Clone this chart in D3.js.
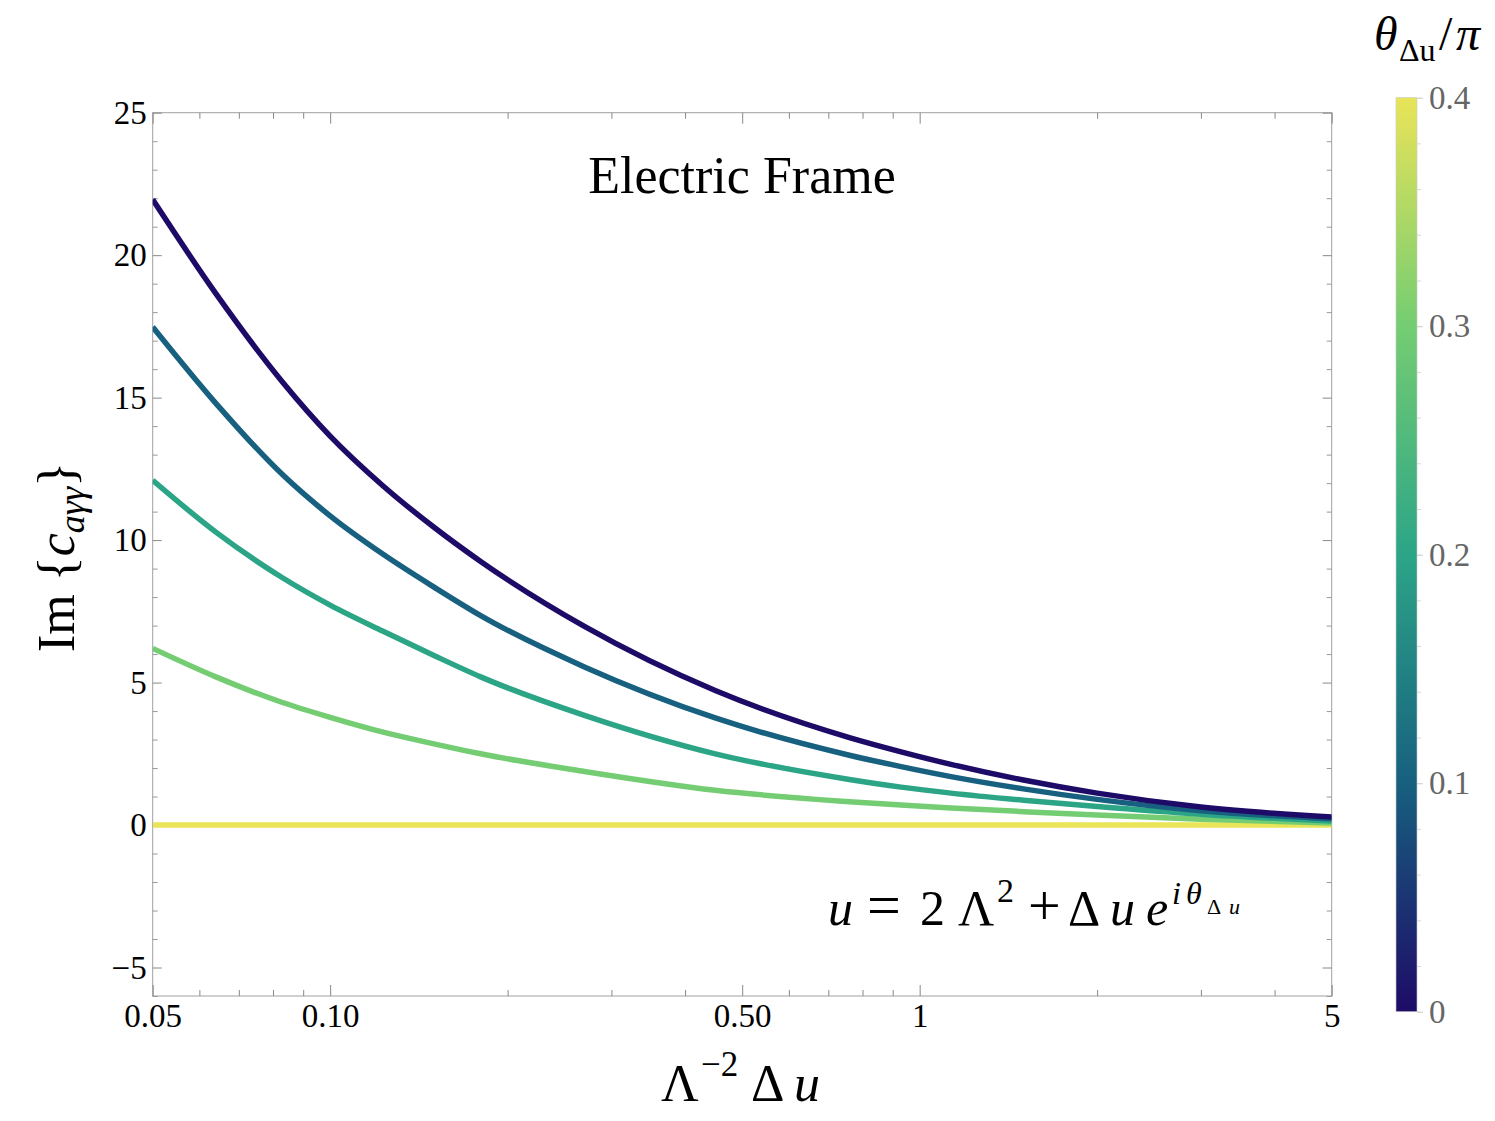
<!DOCTYPE html>
<html lang="en">
<head>
<meta charset="UTF-8">
<title>Electric Frame</title>
<script src="https://d3js.org/d3.v7.min.js"></script>
<style>
  body { margin: 0; background: #fff; }
  text { font-family: "Liberation Serif", "DejaVu Serif", serif; }
</style>
</head>
<body>
<div id="chart"></div>
<script>
// data
var xVals = [0.05, 0.064, 0.083, 0.1, 0.123, 0.15, 0.18, 0.27, 0.45, 0.76, 0.93, 1.13, 1.5, 2.0, 3.0, 5.0];
var thetas = [0, 0.1, 0.2, 0.3, 0.4];
var im00 = [21.95, 18.65, 15.55, 13.65, 11.9, 10.45, 9.25, 6.97, 4.72, 3.07, 2.57, 2.13, 1.58, 1.12, 0.63, 0.28];
var im01 = [17.48, 14.8, 12.3, 10.85, 9.5, 8.35, 7.35, 5.55, 3.76, 2.45, 2.05, 1.7, 1.27, 0.9, 0.5, 0.22];
var im02 = [12.1, 10.28, 8.68, 7.72, 6.8, 5.95, 5.2, 3.85, 2.5, 1.6, 1.33, 1.12, 0.87, 0.65, 0.38, 0.14];
var im03 = [6.2, 5.2, 4.3, 3.78, 3.26, 2.85, 2.5, 1.88, 1.22, 0.82, 0.7, 0.6, 0.47, 0.35, 0.2, 0.07];
var im04 = [0, 0, 0, 0, 0, 0, 0, 0, 0, 0, 0, 0, 0, 0, 0, 0];
var seriesVals = [im00, im01, im02, im03, im04];

var xMajor = [0.05, 0.1, 0.5, 1, 5];
var xMajorLabels = ["0.05", "0.10", "0.50", "1", "5"];
var xMinor = [0.06, 0.07, 0.08, 0.09, 0.2, 0.3, 0.4, 0.6, 0.7, 0.8, 0.9, 2, 3, 4];
var yMajor = [-5, 0, 5, 10, 15, 20, 25];
var cbTicks = [0, 0.1, 0.2, 0.3, 0.4];

var W = 1495, H = 1121;
var L = 152.7, R = 1331.7, T = 112.7, B = 996;

var svg = d3.select("#chart").append("svg")
    .attr("width", W).attr("height", H);

var x = d3.scaleLog().domain([0.05, 5]).range([L, R]);
var y = d3.scaleLinear().domain([-6, 25]).range([B, T]);

var color = d3.scaleLinear()
    .domain([0, 0.1, 0.2, 0.3, 0.4])
    .range(["#1e0b67", "#17607f", "#2ca587", "#74cd72", "#e9e458"]);

var yMinor = d3.range(-6, 26).filter(function (v) { return v % 5 !== 0; });

// frame
svg.append("rect")
    .attr("x", L).attr("y", T)
    .attr("width", R - L).attr("height", B - T)
    .attr("fill", "none").attr("stroke", "#a0a0a0").attr("stroke-width", 1);

function styleAxis(g, col) {
    g.select(".domain").remove();
    g.selectAll(".tick line").attr("stroke", col);
    g.selectAll(".tick text").attr("font-size", 33).attr("fill", "#000")
        .attr("font-family", "Liberation Serif, serif");
}

// bottom axis
svg.append("g").attr("transform", "translate(0," + B + ")")
    .call(d3.axisBottom(x).tickValues(xMajor).tickSize(-11).tickPadding(8)
        .tickFormat(function (d, i) { return xMajorLabels[i]; }))
    .call(styleAxis, "#888");
svg.append("g").attr("transform", "translate(0," + B + ")")
    .call(d3.axisBottom(x).tickValues(xMinor).tickSize(-6).tickFormat(""))
    .call(styleAxis, "#888");
// top axis (mirror)
svg.append("g").attr("transform", "translate(0," + T + ")")
    .call(d3.axisTop(x).tickValues(xMajor).tickSize(-11).tickFormat(""))
    .call(styleAxis, "#888");
svg.append("g").attr("transform", "translate(0," + T + ")")
    .call(d3.axisTop(x).tickValues(xMinor).tickSize(-6).tickFormat(""))
    .call(styleAxis, "#888");

// left axis
svg.append("g").attr("transform", "translate(" + L + ",0)")
    .call(d3.axisLeft(y).tickValues(yMajor).tickSize(-9).tickPadding(6)
        .tickFormat(function (d) { return d < 0 ? "\u2212" + Math.abs(d) : d; }))
    .call(styleAxis, "#888");
svg.append("g").attr("transform", "translate(" + L + ",0)")
    .call(d3.axisLeft(y).tickValues(yMinor).tickSize(-5).tickFormat(""))
    .call(styleAxis, "#999");
// right axis (mirror)
svg.append("g").attr("transform", "translate(" + R + ",0)")
    .call(d3.axisRight(y).tickValues(yMajor).tickSize(-9).tickFormat(""))
    .call(styleAxis, "#888");
svg.append("g").attr("transform", "translate(" + R + ",0)")
    .call(d3.axisRight(y).tickValues(yMinor).tickSize(-5).tickFormat(""))
    .call(styleAxis, "#999");

// curves
svg.append("clipPath").attr("id", "plotclip")
    .append("rect").attr("x", L).attr("y", T).attr("width", R - L).attr("height", B - T);

var line = d3.line()
    .x(function (d) { return x(d[0]); })
    .y(function (d) { return y(d[1]); })
    .curve(d3.curveMonotoneX);

var order = [4, 3, 2, 1, 0];
order.forEach(function (k) {
    var pts = xVals.map(function (xv, i) { return [xv, seriesVals[k][i]]; });
    svg.append("path")
        .datum(pts)
        .attr("clip-path", "url(#plotclip)")
        .attr("fill", "none")
        .attr("stroke", color(thetas[k]))
        .attr("stroke-width", 5.5)
        .attr("d", line);
});

// title inside plot
svg.append("text")
    .attr("x", 742).attr("y", 193)
    .attr("text-anchor", "middle")
    .attr("font-size", 52)
    .text("Electric Frame");

// formula  u = 2 Λ^2 + Δ u e^{i θ_{Δu}}
var f = svg.append("text").attr("font-size", 50);
f.append("tspan").attr("x", 828).attr("y", 925).attr("font-style", "italic").text("u");
f.append("tspan").attr("x", 867).attr("y", 925).attr("font-size", 60).text("=");
f.append("tspan").attr("x", 920).attr("y", 925).text("2");
f.append("tspan").attr("x", 958).attr("y", 925).text("\u039B");
f.append("tspan").attr("x", 997).attr("y", 902).attr("font-size", 34).text("2");
f.append("tspan").attr("x", 1028).attr("y", 925).attr("font-size", 58).text("+");
f.append("tspan").attr("x", 1068).attr("y", 925).text("\u0394");
f.append("tspan").attr("x", 1110).attr("y", 925).attr("font-style", "italic").text("u");
f.append("tspan").attr("x", 1146).attr("y", 925).attr("font-style", "italic").text("e");
f.append("tspan").attr("x", 1172).attr("y", 904).attr("font-size", 32).attr("font-style", "italic").text("i");
f.append("tspan").attr("x", 1186).attr("y", 904).attr("font-size", 32).attr("font-style", "italic").text("\u03B8");
f.append("tspan").attr("x", 1207).attr("y", 914).attr("font-size", 22).text("\u0394");
f.append("tspan").attr("x", 1229).attr("y", 914).attr("font-size", 22).attr("font-style", "italic").text("u");

// x label  Λ^{-2} Δ u
var xl = svg.append("text").attr("font-size", 52);
xl.append("tspan").attr("x", 661).attr("y", 1101).text("\u039B");
xl.append("tspan").attr("x", 701).attr("y", 1076).attr("font-size", 35).text("\u22122");
xl.append("tspan").attr("x", 751).attr("y", 1101).text("\u0394");
xl.append("tspan").attr("x", 794).attr("y", 1101).attr("font-style", "italic").text("u");

// y label
var yl = svg.append("text")
    .attr("transform", "translate(74,557) rotate(-90)")
    .attr("text-anchor", "middle")
    .attr("font-size", 52);
yl.append("tspan").text("Im {");
yl.append("tspan").attr("font-style", "italic").text("c");
yl.append("tspan").attr("font-style", "italic").attr("font-size", 36).attr("dy", 10).text("a\u03B3\u03B3");
yl.append("tspan").attr("dy", -10).text("}");

// colour bar
var cbX = 1396, cbW = 21, cbTop = 97.7, cbBot = 1011.7;
var cb = d3.scaleLinear().domain([0, 0.4]).range([cbBot, cbTop]);

var grad = svg.append("defs").append("linearGradient")
    .attr("id", "cbgrad").attr("x1", 0).attr("y1", 1).attr("x2", 0).attr("y2", 0);
d3.range(0, 0.4001, 0.02).forEach(function (v) {
    grad.append("stop").attr("offset", (v / 0.4)).attr("stop-color", color(v));
});
svg.append("rect")
    .attr("x", cbX).attr("y", cbTop)
    .attr("width", cbW).attr("height", cbBot - cbTop)
    .attr("fill", "url(#cbgrad)")
    .attr("stroke", "#c8c8c8").attr("stroke-width", 0.6);

var cbMinor = d3.range(0, 0.4001, 0.02).map(function (v) { return +v.toFixed(2); });
svg.append("g").attr("transform", "translate(" + (cbX + cbW) + ",0)")
    .call(d3.axisRight(cb).tickValues(cbMinor).tickSize(4).tickFormat(""))
    .call(function (g) {
        g.select(".domain").remove();
        g.selectAll(".tick line").attr("stroke", "#d8d8d8");
    });
svg.append("g").attr("transform", "translate(" + (cbX + cbW) + ",0)")
    .call(d3.axisRight(cb).tickValues(cbTicks).tickSize(6).tickPadding(6)
        .tickFormat(function (d) { return d === 0 ? "0" : d3.format(".1f")(d); }))
    .call(function (g) {
        g.select(".domain").remove();
        g.selectAll(".tick line").attr("stroke", "#d0d0d0");
        g.selectAll(".tick text").attr("font-size", 33).attr("fill", "#666")
            .attr("font-family", "Liberation Serif, serif");
    });

// colour bar title  θ_{Δu}/π
var ct = svg.append("text").attr("font-size", 48);
ct.append("tspan").attr("x", 1374).attr("y", 50).attr("font-style", "italic").text("\u03B8");
ct.append("tspan").attr("x", 1399).attr("y", 61).attr("font-size", 32).text("\u0394u");
ct.append("tspan").attr("x", 1439).attr("y", 50).text("/");
ct.append("tspan").attr("x", 1456).attr("y", 50).attr("font-style", "italic").text("\u03C0");
</script>
</body>
</html>
